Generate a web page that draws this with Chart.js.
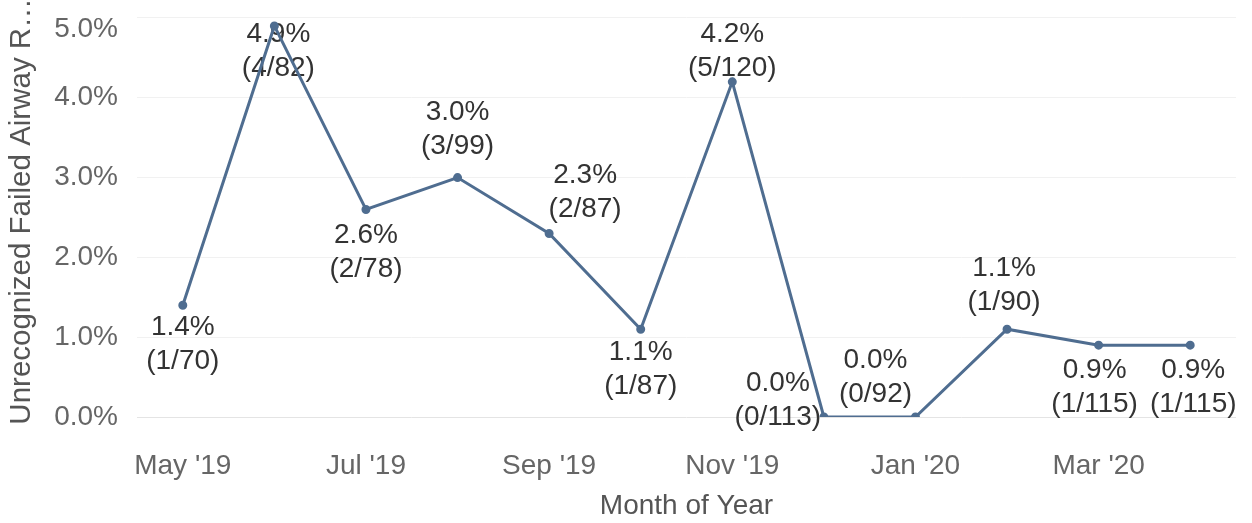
<!DOCTYPE html>
<html>
<head>
<meta charset="utf-8">
<script src="https://cdn.jsdelivr.net/npm/chart.js@4/dist/chart.umd.min.js"></script>
<style>
  html, body { margin: 0; padding: 0; background: #ffffff; }
  #wrap { width: 1252px; height: 523px; position: relative; }
</style>
</head>
<body>
<div id="wrap"><canvas id="chart" width="1252" height="523"></canvas></div>
<script>
// Monthly data
const months = ["May '19", "Jun '19", "Jul '19", "Aug '19", "Sep '19", "Oct '19",
                "Nov '19", "Dec '19", "Jan '20", "Feb '20", "Mar '20", "Apr '20"];
const rates = [1.4, 4.9, 2.6, 3.0, 2.3, 1.1, 4.2, 0.0, 0.0, 1.1, 0.9, 0.9];
const failed = [1, 4, 2, 3, 2, 1, 5, 0, 0, 1, 1, 1];
const totals = [70, 82, 78, 99, 87, 87, 120, 113, 92, 90, 115, 115];
const yTickValues = [0, 1, 2, 3, 4, 5];

// Label placement around each point (pixel offsets of the first label line)
const labelDx = [0, 4, 0, 0, 36, 0, 0, -46, -40, -3, -4, 3];
const labelDy = [22, 8, 26, -65, -58, 23, -48, -34, -57, -61, 25, 25];

const FONT = "'Liberation Sans', Arial, Helvetica, sans-serif";
const LINE_COLOR = '#4f6d90';

const pointLabels = {
  id: 'pointLabels',
  beforeDatasetsDraw(chart) {
    const ctx = chart.ctx;
    const meta = chart.getDatasetMeta(0);
    ctx.save();
    ctx.font = '28px ' + FONT;
    ctx.fillStyle = '#333333';
    ctx.textAlign = 'center';
    ctx.textBaseline = 'middle';
    meta.data.forEach((pt, i) => {
      const x = pt.x + labelDx[i];
      const y = pt.y + labelDy[i];
      ctx.fillText(rates[i].toFixed(1) + '%', x, y);
      ctx.fillText('(' + failed[i] + '/' + totals[i] + ')', x, y + 34);
    });
    ctx.restore();
  }
};

new Chart(document.getElementById('chart'), {
  type: 'line',
  data: {
    labels: months,
    datasets: [{
      data: rates,
      borderColor: LINE_COLOR,
      backgroundColor: LINE_COLOR,
      borderWidth: 3,
      pointRadius: 3,
      pointHoverRadius: 3,
      tension: 0,
      fill: false
    }]
  },
  options: {
    responsive: false,
    animation: false,
    layout: { padding: { left: 0, right: 16, top: 5, bottom: 0 } },
    plugins: {
      legend: { display: false },
      tooltip: { enabled: false }
    },
    scales: {
      x: {
        type: 'category',
        offset: true,
        border: { display: false },
        grid: { display: false, drawTicks: false },
        ticks: {
          autoSkip: false,
          maxRotation: 0,
          padding: 32,
          color: '#666666',
          font: { family: FONT, size: 28 },
          callback: (v, i) => (i % 2 === 0 ? months[i] : '')
        },
        title: {
          display: true,
          text: 'Month of Year',
          color: '#555555',
          font: { family: FONT, size: 28 },
          padding: { top: 0, bottom: 0 }
        },
        afterFit(scale) { scale.height = 106; }
      },
      y: {
        min: 0,
        max: 5.15,
        border: { display: false },
        grid: {
          drawTicks: false,
          color: (c) => (c.tick && c.tick.value === 0 ? '#e4e4e4' : '#f1f1f1'),
          lineWidth: 1
        },
        afterBuildTicks(scale) {
          scale.ticks = yTickValues.map(v => ({ value: v }));
        },
        ticks: {
          padding: 19,
          color: '#666666',
          font: { family: FONT, size: 28, lineHeight: 0.8 },
          callback: (v) => {
            const s = Number(v).toFixed(1) + '%';
            // the topmost label sits a little lower so it stays inside the frame
            return v === yTickValues[yTickValues.length - 1] ? ['', s] : s;
          }
        },
        title: {
          display: true,
          text: 'Unrecognized Failed Airway R\u2026',
          color: '#555555',
          font: { family: FONT, size: 29.5 },
          padding: { top: 4, bottom: 0 }
        },
        afterFit(scale) {
          scale.width = 137;
          scale.paddingTop = 0;
          scale.paddingBottom = 0;
        }
      }
    }
  },
  plugins: [pointLabels]
});
</script>
</body>
</html>
